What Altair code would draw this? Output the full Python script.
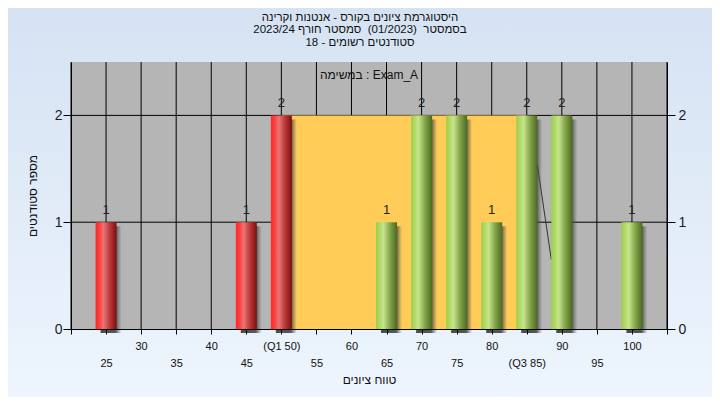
import altair as alt
import pandas as pd

# ---------------- data ----------------
scores = [25, 45, 50, 65, 70, 75, 80, 85, 90, 100]
counts = [1, 1, 2, 1, 2, 2, 1, 2, 2, 1]
groups = ["low", "low", "low", "high", "high", "high", "high", "high", "high", "high"]

q1_value = 50
q3_value = 85
iqr_top = 2

curve_x = [86.5, 88.5]
curve_y = [1.54, 0.65]

tick_values = [20, 25, 30, 35, 40, 45, 50, 55, 60, 65, 70, 75, 80, 85, 90, 95, 100, 105]
tick_labels = ["", "25", "30", "35", "40", "45", "(Q1 50)", "55", "60", "65", "70", "75",
               "80", "(Q3 85)", "90", "95", "100", ""]
tick_rows = [0, 1, 0, 1, 0, 1, 0, 1, 0, 1, 0, 1, 0, 1, 0, 1, 0, 0]

y_ticks = [0, 1, 2]
y_grid = [1, 2]

title_lines = [
    "היסטוגרמת ציונים בקורס - אנטנות וקרינה",
    "בסמסטר\u00a0 (01/2023)\u00a0 סמסטר חורף 2023/24",
    "סטודנטים רשומים - 18",
]
task_label = "במשימה : Exam_A"
x_title = "טווח ציונים"
y_title = "מספר סטודנטים"

FONT = "Liberation Sans"
W, H = 596, 267
PAD = {"left": 63, "top": 54, "right": 45, "bottom": 68}

bars = pd.DataFrame({"score": scores, "count": counts, "group": groups})
iqr = pd.DataFrame({"q1": [q1_value], "q3": [q3_value], "y0": [0], "y1": [iqr_top]})
curve = pd.DataFrame({"cx": curve_x, "cy": curve_y})
note = pd.DataFrame({"t": [task_label]})
xgrid = pd.DataFrame({"v": tick_values})
ygrid = pd.DataFrame({"g": y_grid})

# label expression for two-row x labels
parts = []
for v, lab, row in zip(tick_values, tick_labels, tick_rows):
    if row == 1:
        parts.append(f"datum.value == {v} ? [' ', '{lab}']")
    else:
        parts.append(f"datum.value == {v} ? '{lab}'")
label_expr = " : ".join(parts) + " : ''"

xscale = alt.Scale(domain=[20, 105], nice=False, zero=False, padding=0)
yscale = alt.Scale(domain=[0, 2.5], nice=False, zero=True, padding=0)

xaxis = alt.Axis(
    values=tick_values, labelExpr=label_expr, grid=False, zindex=1,
    tickSize=5, tickColor="black", domainColor="black",
    labelFontSize=11, labelBaseline="top", labelLineHeight=17, labelPadding=6,
    labelOverlap=False, labelFlush=False, labelBound=False, labelColor="#111",
    title=x_title, titleFontSize=12, titleFontWeight="normal", titlePadding=6,
    titleColor="#111",
)
yaxis_left = alt.Axis(
    values=y_ticks, grid=False, zindex=1, tickSize=8,
    tickColor="black", domainColor="black", labelFontSize=14, labelPadding=1,
    labelColor="#1a1a2a", title=y_title, titleFontSize=12, titleFontWeight="normal",
    titlePadding=15, titleColor="#111",
)
yaxis_right = alt.Axis(
    orient="right", values=y_ticks, grid=False, zindex=1, tickSize=8, tickColor="black",
    domainColor="black", labelFontSize=14, labelPadding=3, labelColor="#1a1a2a",
)


def X(field):
    return alt.X(f"{field}:Q", scale=xscale, axis=xaxis, title=x_title)


bg_grad = alt.Gradient(
    gradient="linear", x1=0, x2=0, y1=0, y2=1,
    stops=[
        alt.GradientStop(offset=0, color="#d4e2f2"),
        alt.GradientStop(offset=1, color="#eef5fe"),
    ],
)
red_grad = alt.Gradient(
    gradient="linear", x1=0, x2=1, y1=0, y2=0,
    stops=[
        alt.GradientStop(offset=0, color="#ff2a2a"),
        alt.GradientStop(offset=0.15, color="#ff3838"),
        alt.GradientStop(offset=0.38, color="#e87676"),
        alt.GradientStop(offset=0.65, color="#c03c3c"),
        alt.GradientStop(offset=1, color="#7a1010"),
    ],
)
green_grad = alt.Gradient(
    gradient="linear", x1=0, x2=1, y1=0, y2=0,
    stops=[
        alt.GradientStop(offset=0, color="#9ccf45"),
        alt.GradientStop(offset=0.35, color="#c6e48c"),
        alt.GradientStop(offset=0.65, color="#86a64c"),
        alt.GradientStop(offset=1, color="#4a6a20"),
    ],
)
shadow_grad = alt.Gradient(
    gradient="linear", x1=0, x2=1, y1=0, y2=0,
    stops=[
        alt.GradientStop(offset=0, color="#2e2e2e"),
        alt.GradientStop(offset=0.72, color="#3c3c3c"),
        alt.GradientStop(offset=1, color="rgba(90,90,90,0)"),
    ],
)

bg_layer = alt.Chart(note).mark_rect(color=bg_grad).encode(
    x=alt.value(-PAD["left"] - 8), x2=alt.value(W + PAD["right"] + 8),
    y=alt.value(-PAD["top"] - 8), y2=alt.value(H + PAD["bottom"] + 8),
)

plot_bg_layer = alt.Chart(note).mark_rect(color="#b5b5b5").encode(
    x=alt.value(0), x2=alt.value(W), y=alt.value(0), y2=alt.value(H),
)

vgrid_layer = alt.Chart(xgrid).mark_rule(color="black", strokeWidth=1).encode(
    x=X("v"),
)

hgrid_layer = alt.Chart(ygrid).mark_rule(color="black", strokeWidth=1).encode(
    y=alt.Y("g:Q", scale=yscale, axis=None),
)

iqr_layer = alt.Chart(iqr).mark_rect(color="#ffcc58").encode(
    x=X("q1"), x2="q3:Q",
    y=alt.Y("y0:Q", scale=yscale, axis=yaxis_left, title=y_title), y2="y1:Q",
)

curve_layer = alt.Chart(curve).mark_line(color="#333333", strokeWidth=1).encode(
    x=X("cx"), y=alt.Y("cy:Q", scale=yscale, axis=None),
)

shadow_layer = alt.Chart(bars).mark_bar(
    size=21, xOffset=5, yOffset=4, color=shadow_grad, opacity=0.85
).encode(
    x=X("score"), y=alt.Y("count:Q", scale=yscale, axis=None),
)

red_layer = alt.Chart(bars).transform_filter(alt.datum.group == "low").mark_bar(
    size=21, color=red_grad
).encode(
    x=X("score"), y=alt.Y("count:Q", scale=yscale, axis=None),
)

green_layer = alt.Chart(bars).transform_filter(alt.datum.group == "high").mark_bar(
    size=21, color=green_grad
).encode(
    x=X("score"), y=alt.Y("count:Q", scale=yscale, axis=None),
)

text_layer = alt.Chart(bars).mark_text(
    fontSize=13, color="#222222", baseline="alphabetic", dy=-8, font=FONT
).encode(
    x=X("score"), y=alt.Y("count:Q", scale=yscale, axis=None), text="count:Q",
)

note_layer = alt.Chart(note).mark_text(
    fontSize=12, color="#111111", baseline="middle", align="center", font=FONT
).encode(
    x=alt.value(W / 2), y=alt.value(13), text="t:N",
)

title_layers = []
for i, line in enumerate(title_lines):
    tdf = pd.DataFrame({"t": [line]})
    title_layers.append(
        alt.Chart(tdf).mark_text(
            fontSize=11.5, color="#111111", baseline="middle", align="center", font=FONT
        ).encode(
            x=alt.value(289), y=alt.value(-44.5 + 12.5 * i), text="t:N",
        )
    )

right_axis_layer = alt.Chart(bars).mark_tick(opacity=0).encode(
    x=X("score"), y=alt.Y("count:Q", scale=yscale, axis=yaxis_right, title=None),
)

chart = alt.layer(
    bg_layer, plot_bg_layer, vgrid_layer, hgrid_layer,
    iqr_layer, curve_layer, shadow_layer, red_layer, green_layer, text_layer,
    note_layer, *title_layers, right_axis_layer,
).resolve_axis(y="independent").properties(
    width=W,
    height=H,
    autosize=alt.AutoSizeParams(type="none"),
    padding=PAD,
    background="#dfeaf6",
).configure(font=FONT).configure_view(strokeWidth=0)

chart.save("out.html", embed_options={"renderer": "svg", "actions": False})
